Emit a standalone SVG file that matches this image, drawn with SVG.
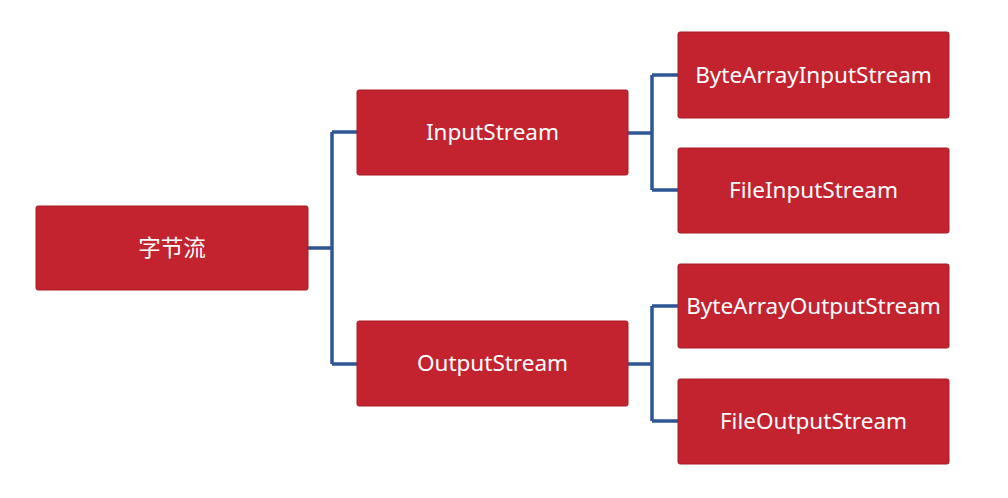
<svg xmlns="http://www.w3.org/2000/svg" width="1008" height="498" viewBox="0 0 1008 498">
<style>
.box{fill:#c3232f;stroke:#a81c27;stroke-width:1}
.t{fill:#fff;font-family:"Noto Sans","Noto Sans CJK SC",sans-serif;font-size:22.5px;text-anchor:middle;dominant-baseline:central}
.c{fill:none;stroke:#2c5694;stroke-width:3.5;stroke-linejoin:round}
</style>
<rect width="1008" height="498" fill="#fff"/>
<g id="connectors">
<path class="c" d="M308 248H332M332 132V364M332 132H357M332 364H357"/>
<path class="c" d="M628 133H652M652 75V190M652 75H678M652 190H678"/>
<path class="c" d="M628 364H652M652 306V421M652 306H678M652 421H678"/>
</g>
<g id="root"><rect class="box" x="36" y="206" width="272" height="84" rx="2"/><text class="t" x="172" y="247">字节流</text></g>
<g id="inputstream"><rect class="box" x="357" y="90" width="271" height="85" rx="2"/><text class="t" x="492.5" y="131">InputStream</text></g>
<g id="outputstream"><rect class="box" x="357" y="321" width="271" height="85" rx="2"/><text class="t" x="492.5" y="362">OutputStream</text></g>
<g id="bytearrayinputstream"><rect class="box" x="678" y="32" width="271" height="86" rx="2"/><text class="t" x="813.5" y="74">ByteArrayInputStream</text></g>
<g id="fileinputstream"><rect class="box" x="678" y="148" width="271" height="85" rx="2"/><text class="t" x="813.5" y="189">FileInputStream</text></g>
<g id="bytearrayoutputstream"><rect class="box" x="678" y="264" width="271" height="84" rx="2"/><text class="t" x="813.5" y="305">ByteArrayOutputStream</text></g>
<g id="fileoutputstream"><rect class="box" x="678" y="379" width="271" height="85" rx="2"/><text class="t" x="813.5" y="420">FileOutputStream</text></g>
</svg>
